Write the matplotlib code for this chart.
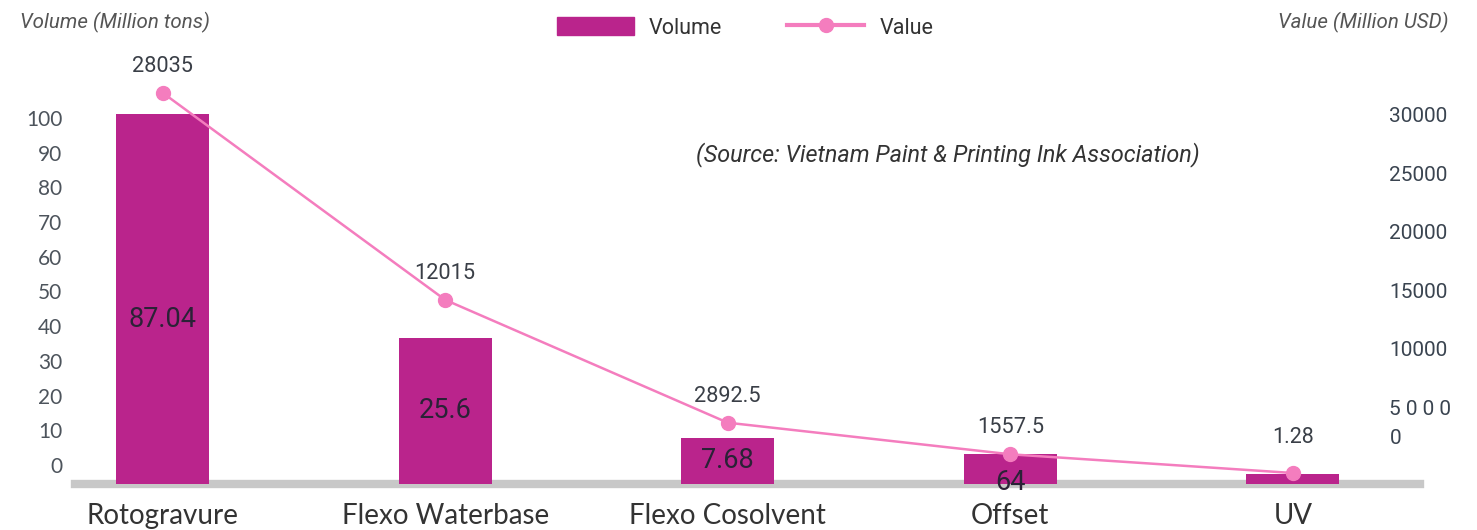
import matplotlib
matplotlib.use("Agg")
import matplotlib.pyplot as plt
import numpy as np
from matplotlib.patches import Patch
from matplotlib.lines import Line2D

# ---- data ----
categories = ["Rotogravure", "Flexo Waterbase", "Flexo Cosolvent", "Offset", "UV"]
# bar tops as read against the left (volume) scale
volume_bar_tops = [101.2, 36.6, 7.8, 3.2, -2.6]
volume_labels = ["87.04", "25.6", "7.68", "64", "1.28"]
# line points as read against the right (value) scale
value_points = [31900, 14200, 3700, 1000, -600]
value_labels = ["28035", "12015", "2892.5", "1557.5", ""]
left_ticks = [0, 10, 20, 30, 40, 50, 60, 70, 80, 90, 100]
right_ticks = [5000, 10000, 15000, 20000, 25000, 30000]
right_tick_labels = ["5 0 0 0", "10000", "15000", "20000", "25000", "30000"]

BAR = "#BA248C"
LINE = "#F47DBE"
TXT = "#3a3f47"

plt.rcParams['font.family'] = ['Roboto', 'DejaVu Sans']

fig = plt.figure(figsize=(14.77, 5.30), dpi=100)
ax = fig.add_axes([75 / 1477, 46 / 530, 1345 / 1477, 424 / 530])
ax2 = ax.twinx()

x = np.arange(len(categories))
ybot = -5.5
ax.set_xlim(-0.31, 4.45)
ax.set_ylim(ybot, 116.7)
ax2.set_ylim(-1540, 34700)

heights = [t - ybot for t in volume_bar_tops]
bars = ax.bar(x, heights, bottom=ybot, width=0.33, color=BAR, zorder=3)

# bar labels
for i, lab in enumerate(volume_labels):
    top = volume_bar_tops[i]
    if i == len(categories) - 1:
        ax.annotate(lab, (x[i], top), xytext=(0, 26), textcoords="offset points",
                    ha="center", va="center", fontsize=15.5, color=TXT, zorder=6)
    else:
        yc = (top + ybot) / 2
        if i == 0:
            yc -= 6
        if i == 3:
            yc -= 4
        ax.text(x[i], yc, lab, ha="center", va="center",
                fontsize=19.5, color="#2a2236", zorder=6)

# line
ax2.plot(x, value_points, color=LINE, lw=1.8, marker="o", ms=10, zorder=5)
for i, lab in enumerate(value_labels):
    if lab:
        ax2.annotate(lab, (x[i], value_points[i]), xytext=(0, 19), textcoords="offset points",
                     ha="center", va="center", fontsize=15.7, color=TXT)

# spines / baseline
for a in (ax, ax2):
    for s in ("top", "left", "right", "bottom"):
        a.spines[s].set_visible(False)
ax.axhline(ybot, color="#c8c8c8", lw=6, zorder=2, clip_on=False)
ax2.set_zorder(ax.get_zorder() + 1)
ax2.patch.set_visible(False)

ax.set_xticks(x)
ax.set_xticklabels(categories, fontsize=20, color="#333333", family=["Lato", "DejaVu Sans"])
ax.tick_params(axis="x", length=0, pad=14)

ax.set_yticks(left_ticks)
ax.set_yticklabels([str(t) for t in left_ticks], fontsize=15, color="#4d545c",
                   family=["Lato", "DejaVu Sans"])
ax.tick_params(axis="y", length=0, pad=9)

ax2.set_yticks(right_ticks)
ax2.set_yticklabels(right_tick_labels, fontsize=15, color="#3a4450")
ax2.set_yticks([2500], minor=True)
ax2.set_yticklabels(["0"], minor=True, fontsize=15, color="#3a4450")
ax2.tick_params(axis="y", which="both", length=0, pad=-22)

# axis titles
fig.text(20 / 1477, 1 - 22 / 530, "Volume (Million tons)", fontsize=14.8, style="italic",
         color="#555555", ha="left", va="center")
fig.text(1449 / 1477, 1 - 22 / 530, "Value (Million USD)", fontsize=14.8, style="italic",
         color="#555555", ha="right", va="center")

# source
fig.text(948 / 1477, 1 - 155 / 530, "(Source: Vietnam Paint & Printing Ink Association)",
         fontsize=16.8, style="italic", color="#333333", ha="center", va="center")

# legend
handles = [Patch(color=BAR, label="Volume"),
           Line2D([0], [0], color=LINE, lw=3, marker="o", ms=10, label="Value")]
leg = fig.legend(handles=handles, loc="center", bbox_to_anchor=(745 / 1477, 1 - 28 / 530),
                 ncol=2, frameon=False, fontsize=15.5, handlelength=3.6, handleheight=0.9,
                 columnspacing=3.0, handletextpad=0.7)
for t in leg.get_texts():
    t.set_color("#333333")

fig.savefig("out.png", dpi=100)
